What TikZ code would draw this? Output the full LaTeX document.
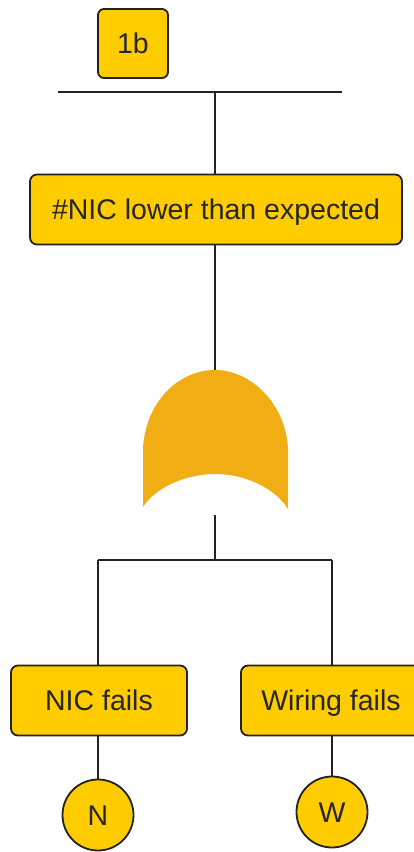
\documentclass[tikz,border=0pt]{standalone}
\usepackage{fontspec}
\setmainfont{Liberation Sans}
\definecolor{boxfill}{HTML}{FFCC00}
\definecolor{gatefill}{HTML}{F0AE14}
\definecolor{inkline}{HTML}{222222}
\tikzset{
  every node/.style={font=\fontsize{28.5}{32}\selectfont, text=black!85, inner sep=0pt, outer sep=0pt, text height=20.4pt, text depth=0pt},
  evbox/.style={draw=inkline, line width=1.8pt, fill=boxfill, rounded corners=7pt, minimum height=70pt},
  evcirc/.style={draw=inkline, line width=1.8pt, fill=boxfill, circle},
  conn/.style={draw=inkline, line width=1.8pt}
}
\begin{document}
\begin{tikzpicture}[x=1pt,y=-1pt]
\useasboundingbox (0,0) rectangle (414,852);
\clip (0,0) rectangle (414,852);
\fill[white] (0,0) rectangle (414,852);
\coordinate (barL) at (58,92);
\coordinate (barR) at (342,92);
\coordinate (barM) at (215,92);
\coordinate (gateTop) at (215,372);
\coordinate (gateBot) at (215,515);
\coordinate (busM) at (215,560);
\coordinate (busL) at (98,560);
\coordinate (busR) at (332,560);
\node[evbox, minimum width=70pt, minimum height=69pt, rounded corners=6pt] (top) at (133,43.5) {1b};
\node[evbox, minimum width=372pt] (main) at (216,209.5) {\#NIC lower than expected};
\node[evbox, minimum width=176pt] (nic) at (99,700.5) {NIC fails};
\node[evbox, minimum width=180pt] (wir) at (331,700.5) {Wiring fails};
\node[evcirc, minimum size=71pt] (n) at (98,815) {N};
\node[evcirc, minimum size=71pt] (w) at (332,812) {W};
\draw[conn] (barL) -- (barR);
\draw[conn] (barM) -- (barM |- main.north);
\draw[conn] (gateTop |- main.south) -- (gateTop);
\draw[conn] (gateBot) -- (busM);
\draw[conn] (busL) -- (busR);
\draw[conn] (busL) -- (busL |- nic.north);
\draw[conn] (busR) -- (busR |- wir.north);
\draw[conn] (n.north |- nic.south) -- (n.north);
\draw[conn] (w.north |- wir.south) -- (w.north);
\fill[gatefill] (143,507) -- (143,448)
  .. controls (146,400) and (180,370) .. (215,370)
  .. controls (250,370) and (285,402) .. (288,448)
  -- (288,509)
  .. controls (275,488) and (245,474) .. (215,474)
  .. controls (185,474) and (155,488) .. (143,507) -- cycle;
\end{tikzpicture}
\end{document}
